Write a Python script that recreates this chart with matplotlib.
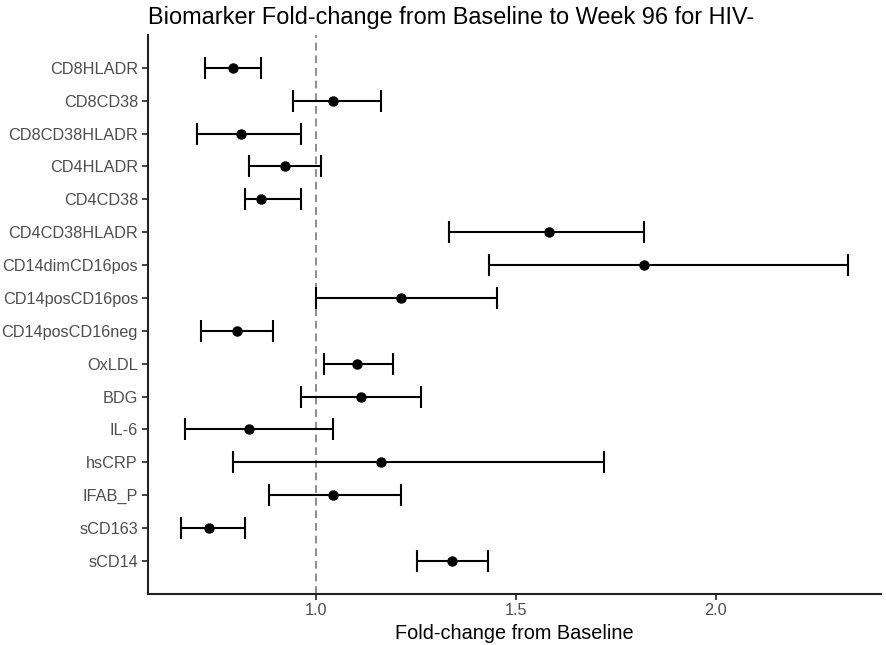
import numpy as np
import matplotlib
matplotlib.use('Agg')
import matplotlib.pyplot as plt

plt.rcParams['font.family'] = ['Liberation Sans', 'DejaVu Sans']

# 生物标志物（从上到下）
markers = ['CD8HLADR', 'CD8CD38', 'CD8CD38HLADR', 'CD4HLADR', 'CD4CD38',
           'CD4CD38HLADR', 'CD14dimCD16pos', 'CD14posCD16pos', 'CD14posCD16neg',
           'OxLDL', 'BDG', 'IL-6', 'hsCRP', 'IFAB_P', 'sCD163', 'sCD14']
fold = [0.792, 1.041, 0.811, 0.921, 0.862,
        1.582, 1.821, 1.212, 0.802,
        1.101, 1.111, 0.831, 1.162, 1.041, 0.732, 1.341]
lower = [0.720, 0.941, 0.702, 0.832, 0.822,
         1.332, 1.432, 1.000, 0.711,
         1.020, 0.962, 0.671, 0.791, 0.882, 0.661, 1.252]
upper = [0.862, 1.161, 0.962, 1.011, 0.961,
         1.821, 2.331, 1.452, 0.892,
         1.192, 1.262, 1.042, 1.721, 1.212, 0.822, 1.430]

fold = np.array(fold)
lower = np.array(lower)
upper = np.array(upper)
y = np.arange(len(markers))[::-1] + 1

fig = plt.figure(figsize=(8.86, 6.45), dpi=100)
ax = fig.add_axes([0.1667, 0.0795, 0.8277, 0.8662])

ax.axvline(1.0, color='#8c8c8c', lw=1.4, ls=(0, (4, 2.5)), zorder=1)
ax.errorbar(fold, y, xerr=[fold - lower, upper - fold], fmt='o', color='black',
            ms=6.5, elinewidth=1.5, capsize=8, capthick=1.5, zorder=3)

lo, hi = lower.min(), upper.max()
pad = 0.05 * (hi - lo)
ax.set_xlim(lo - pad, hi + pad)
ax.set_ylim(0, len(markers) + 1)
ax.set_yticks(y)
ax.set_yticklabels(markers)
ax.set_xticks([1.0, 1.5, 2.0])
ax.set_xticklabels(['1.0', '1.5', '2.0'])

for s in ['top', 'right']:
    ax.spines[s].set_visible(False)
for s in ['left', 'bottom']:
    ax.spines[s].set_linewidth(1.5)
    ax.spines[s].set_color('#222222')
ax.tick_params(axis='both', colors='#222222', width=1.2, length=4,
               labelsize=11.7, labelcolor='#4d4d4d', pad=3)

ax.set_xlabel('Fold-change from Baseline', fontsize=14.3, color='black', labelpad=4)
ax.set_title('Biomarker Fold-change from Baseline to Week 96 for HIV-',
             fontsize=16.9, loc='left', pad=8)

fig.savefig('out.png', dpi=100)
